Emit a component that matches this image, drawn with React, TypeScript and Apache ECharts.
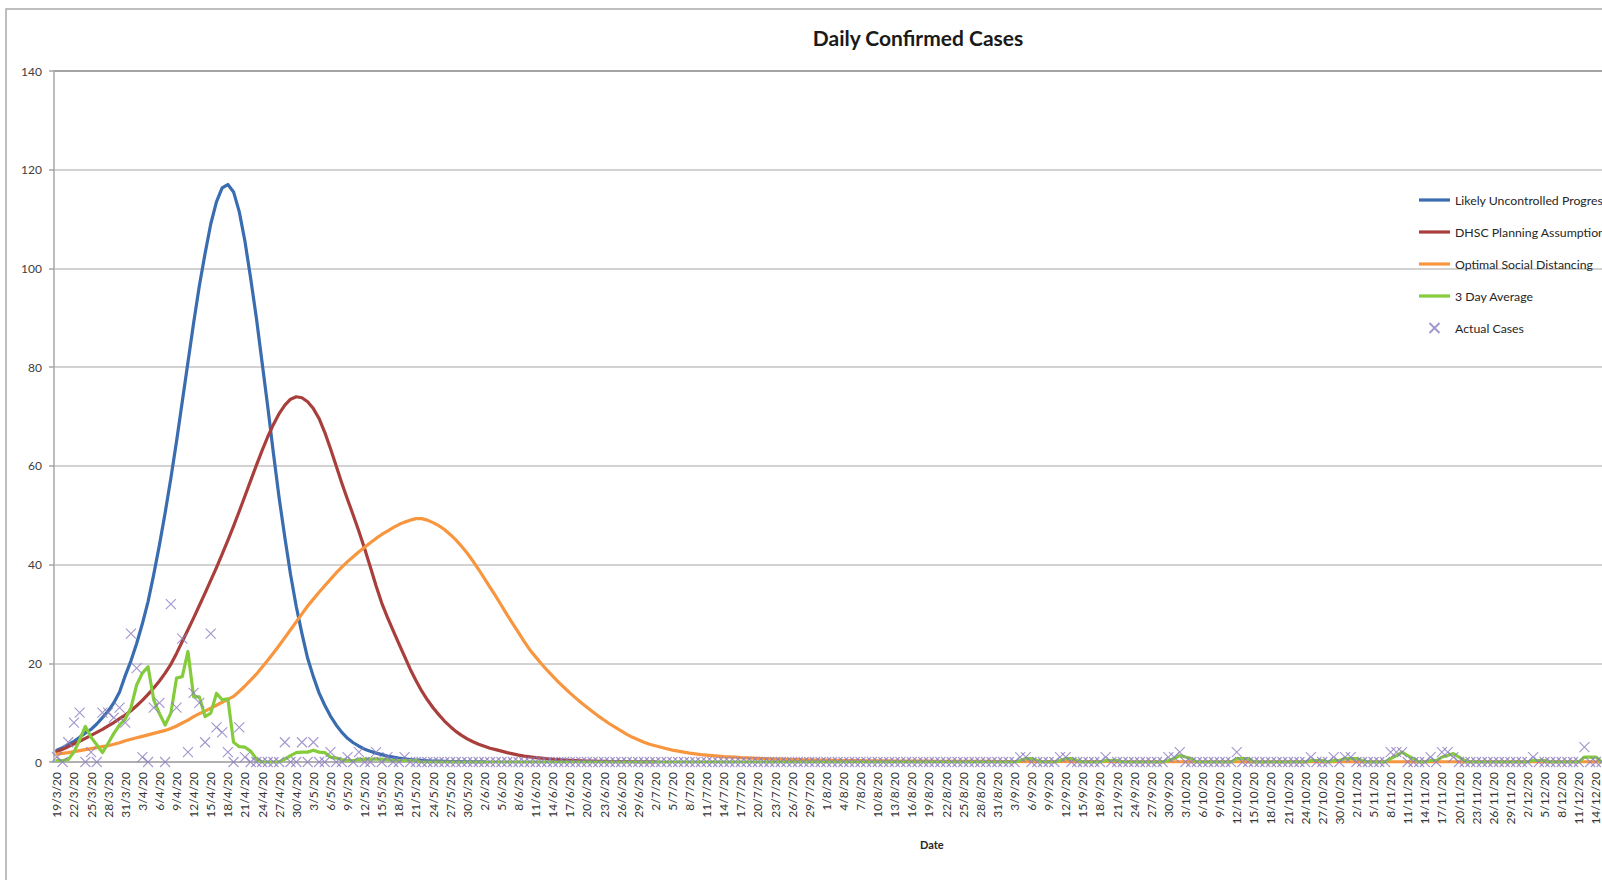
import React, { useEffect, useRef } from "react";
import * as echarts from "echarts";

const TITLE = "Daily Confirmed Cases";
const X_AXIS_NAME = "Date";
const Y_MIN = 0;
const Y_MAX = 140;
const Y_STEP = 20;

// Daily categories: 19/3/20 .. 20/1/21 (the picture is cropped at 14/12/20)
const START_UTC = Date.UTC(2020, 2, 19);
const N_DAYS = 308;
const LAST_VISIBLE_LABEL = 270; // 14/12/20, last label inside the crop
const dates: string[] = Array.from({ length: N_DAYS }, (_, i) => {
  const d = new Date(START_UTC + i * 86400000);
  return `${d.getUTCDate()}/${d.getUTCMonth() + 1}/${String(d.getUTCFullYear()).slice(2)}`;
});

const NAMES = [
  "Likely Uncontrolled Progression",
  "DHSC Planning Assumption",
  "Optimal Social Distancing",
  "3 Day Average",
  "Actual Cases",
];

const likelyUncontrolled = [
  2.4, 2.9, 3.5, 4.2, 5, 5.9, 6.6, 7.7, 9, 10.3,
  12, 14.2, 17.5, 20.5, 24, 28, 32.5, 38, 44, 50.5,
  57.5, 65, 73, 81, 89, 96.5, 103, 109, 113.5, 116.3,
  117, 115.5, 111.5, 105.5, 98, 90, 81, 72, 62.5, 53.5,
  45.5, 38, 31.5, 26, 21, 17.3, 14, 11.5, 9.3, 7.5,
  6, 4.8, 3.9, 3.2, 2.6, 2.2, 1.8, 1.5, 1.2, 1,
  0.8, 0.65, 0.5, 0.4, 0.32, 0.25, 0.2, 0.16, 0.12, 0.1,
  0.08, 0.06, 0.05, 0.04, 0.03, 0.02,
];

const dhscPlanning = [
  2.1, 2.6, 3.1, 3.7, 4.2, 4.8, 5.4, 6, 6.6, 7.3,
  8, 8.8, 9.5, 10.4, 11.4, 12.5, 13.7, 15, 16.4, 18,
  19.8, 22, 24.4, 26.8, 29.2, 31.7, 34.2, 36.8, 39.4, 42.1,
  44.9, 47.8, 50.8, 53.9, 57, 60.1, 63.1, 65.9, 68.4, 70.6,
  72.3, 73.5, 74, 73.8, 73, 71.6, 69.6, 66.8, 63.5, 60,
  56.5, 53.2, 50, 46.7, 43.2, 39.5, 35.7, 32.2, 29.3, 26.6,
  24, 21.4, 18.8, 16.5, 14.4, 12.6, 11, 9.6, 8.3, 7.2,
  6.2, 5.4, 4.7, 4.1, 3.6, 3.2, 2.8, 2.5, 2.2, 1.9,
  1.65, 1.4, 1.2, 1.05, 0.9, 0.78, 0.66, 0.56, 0.48, 0.4,
  0.34, 0.28, 0.24, 0.2, 0.17, 0.14, 0.12, 0.1, 0.08, 0.07,
  0.06, 0.05, 0.04, 0.03, 0.02, 0.02,
];

const optimalDistancing = [
  1.6, 1.75, 1.9, 2.1, 2.3, 2.5, 2.7, 2.9, 3.1, 3.3,
  3.6, 3.9, 4.3, 4.6, 4.9, 5.2, 5.5, 5.8, 6.1, 6.4,
  6.8, 7.3, 7.9, 8.5, 9.2, 9.8, 10.3, 10.9, 11.5, 12.1,
  12.7, 13.3, 14.3, 15.4, 16.6, 17.8, 19.2, 20.6, 22.1, 23.6,
  25.2, 26.8, 28.4, 30, 31.6, 33, 34.4, 35.7, 37, 38.3,
  39.5, 40.6, 41.6, 42.6, 43.5, 44.4, 45.3, 46.1, 46.8, 47.5,
  48.1, 48.6, 49, 49.3, 49.3, 49, 48.5, 47.9, 47.1, 46.1,
  45, 43.7, 42.3, 40.7, 39, 37.2, 35.4, 33.6, 31.7, 29.8,
  28, 26.2, 24.4, 22.7, 21.3, 19.9, 18.6, 17.4, 16.2, 15.1,
  14, 13, 12, 11.1, 10.2, 9.3, 8.5, 7.7, 7, 6.3,
  5.6, 5, 4.5, 4, 3.6, 3.3, 3, 2.7, 2.4, 2.2,
  2, 1.8, 1.65, 1.5, 1.4, 1.3, 1.2, 1.1, 1.05, 1,
  0.9, 0.85, 0.8, 0.75, 0.7, 0.65, 0.6, 0.57, 0.54, 0.5,
  0.47, 0.44, 0.42, 0.4, 0.38, 0.36, 0.34, 0.32, 0.3, 0.28,
  0.27, 0.26, 0.25, 0.24, 0.23, 0.22, 0.21, 0.2, 0.19, 0.18,
  0.18, 0.17, 0.16, 0.16, 0.15, 0.15, 0.14, 0.14, 0.13, 0.13,
  0.12, 0.12, 0.11, 0.11, 0.11, 0.1, 0.1, 0.1, 0.09, 0.09,
  0.09, 0.08, 0.08, 0.08, 0.08, 0.07, 0.07, 0.07, 0.07, 0.06,
  0.06, 0.06, 0.06, 0.06, 0.05, 0.05, 0.05, 0.05, 0.05, 0.05,
  0.04, 0.04, 0.04, 0.04, 0.04, 0.04, 0.04, 0.04, 0.04, 0.04,
  0.04, 0.04, 0.04, 0.03, 0.03, 0.03, 0.03, 0.03, 0.03, 0.03,
  0.03, 0.03, 0.03, 0.03, 0.03, 0.03, 0.03, 0.03, 0.03, 0.03,
  0.03, 0.03, 0.03, 0.03, 0.03, 0.03, 0.03, 0.03, 0.03, 0.03,
  0.02, 0.02, 0.02, 0.02, 0.02, 0.02, 0.02, 0.02, 0.02, 0.02,
  0.02, 0.02, 0.02, 0.02, 0.02, 0.02, 0.02, 0.02, 0.02, 0.02,
  0.02, 0.02, 0.02, 0.02, 0.02, 0.02, 0.02, 0.02, 0.02, 0.02,
  0.02, 0.02, 0.02, 0.02, 0.02, 0.02, 0.02, 0.02, 0.02, 0.02,
  0.02, 0.02, 0.02, 0.02, 0.02, 0.02, 0.02, 0.02, 0.02, 0.02,
];

const threeDayAverage = [
  0.3, 0.3, 0.5, 2, 4.5, 7.2, 5, 3.5, 1.9, 3.8,
  5.8, 7.5, 8.7, 11, 15.6, 18, 19.3, 12.6, 9.8, 7.5,
  9.9, 17, 17.3, 22.4, 13.2, 13.2, 9.2, 9.9, 13.9, 12.6,
  12.8, 4, 3.1, 3, 2.2, 0.6, 0, 0, 0, 0,
  0.6, 1.3, 1.9, 2, 2, 2.4, 2, 1.9, 1, 0.8,
  0.5, 0.3, 0.3, 0.5, 0.6, 0.6, 0.6, 0.6, 0.5, 0.3,
  0.3, 0.3, 0.3, 0.3, 0, 0, 0, 0, 0, 0,
  0, 0, 0, 0, 0, 0, 0, 0, 0, 0,
  0, 0, 0, 0, 0, 0, 0, 0, 0, 0,
  0, 0, 0, 0, 0, 0, 0, 0, 0, 0,
  0, 0, 0, 0, 0, 0, 0, 0, 0, 0,
  0, 0, 0, 0, 0, 0, 0, 0, 0, 0,
  0, 0, 0, 0, 0, 0, 0, 0, 0, 0,
  0, 0, 0, 0, 0, 0, 0, 0, 0, 0,
  0, 0, 0, 0, 0, 0, 0, 0, 0, 0,
  0, 0, 0, 0, 0, 0, 0, 0, 0, 0,
  0, 0, 0, 0, 0, 0, 0, 0, 0, 0.3,
  0.7, 0.7, 0.3, 0, 0, 0, 0.3, 0.7, 0.7, 0.3,
  0, 0, 0, 0, 0.3, 0.3, 0.3, 0, 0, 0,
  0, 0, 0, 0, 0, 0.3, 0.7, 1.3, 1, 0.7,
  0, 0, 0, 0, 0, 0, 0, 0.7, 0.7, 0.7,
  0, 0, 0, 0, 0, 0, 0, 0, 0, 0,
  0.3, 0.3, 0.3, 0, 0.3, 0.3, 0.7, 0.7, 0.7, 0.3,
  0, 0, 0, 0, 0.7, 1.3, 2, 1.3, 0.7, 0,
  0, 0.3, 0.3, 1, 1.3, 1.7, 1, 0.3, 0, 0,
  0, 0, 0, 0, 0, 0, 0, 0, 0, 0.3,
  0.3, 0.3, 0, 0, 0, 0, 0, 0, 1, 1,
  1, 0, 0, 0, 0, 0, 0, 0, 0, 0,
];

const actualCases = [
  1, 0, 4, 8, 10, 0, 2, 0, 10, 10,
  9, 11, 8, 26, 19, 1, 0, 11, 12, 0,
  32, 11, 25, 2, 14, 12, 4, 26, 7, 6,
  2, 0, 7, 1, 0, 0, 0, 0, 0, 0,
  4, 0, 0, 4, 0, 4, 0, 0, 2, 0,
  0, 1, 0, 2, 0, 0, 2, 0, 1, 0,
  0, 1, 0, 0, 0, 0, 0, 0, 0, 0,
  0, 0, 0, 0, 0, 0, 0, 0, 0, 0,
  0, 0, 0, 0, 0, 0, 0, 0, 0, 0,
  0, 0, 0, 0, 0, 0, 0, 0, 0, 0,
  0, 0, 0, 0, 0, 0, 0, 0, 0, 0,
  0, 0, 0, 0, 0, 0, 0, 0, 0, 0,
  0, 0, 0, 0, 0, 0, 0, 0, 0, 0,
  0, 0, 0, 0, 0, 0, 0, 0, 0, 0,
  0, 0, 0, 0, 0, 0, 0, 0, 0, 0,
  0, 0, 0, 0, 0, 0, 0, 0, 0, 0,
  0, 0, 0, 0, 0, 0, 0, 0, 0, 1,
  1, 0, 0, 0, 0, 0, 1, 1, 0, 0,
  0, 0, 0, 0, 1, 0, 0, 0, 0, 0,
  0, 0, 0, 0, 0, 1, 1, 2, 0, 0,
  0, 0, 0, 0, 0, 0, 0, 2, 0, 0,
  0, 0, 0, 0, 0, 0, 0, 0, 0, 0,
  1, 0, 0, 0, 1, 0, 1, 1, 0, 0,
  0, 0, 0, 0, 2, 2, 2, 0, 0, 0,
  0, 1, 0, 2, 2, 1, 0, 0, 0, 0,
  0, 0, 0, 0, 0, 0, 0, 0, 0, 1,
  0, 0, 0, 0, 0, 0, 0, 0, 3, 0,
  0, 0, 0, 0, 0, 0, 0, 0, 0, 0,
];

const COLORS = ["#3a6cb0", "#a93f3c", "#f7963f", "#84cc3c", "#8c7cbf"];
const FONT = 'Lato, "Open Sans", "Liberation Sans", sans-serif';
const CROSS = "path://M0,0L10,10M10,0L0,10";
const LEGEND_LINE = "path://M0,0M31,10M0,3.4L31,3.4L31,6.6L0,6.6Z";
const LEGEND_CROSS = "path://M0,0M31,10M10.5,0L20.5,10M20.5,0L10.5,10";

function lineSeries(name: string, data: number[], color: string, z: number) {
  return {
    type: "line",
    name,
    data,
    color,
    symbol: "none",
    showSymbol: false,
    z,
    silent: true,
    lineStyle: { width: 3.2, color, join: "round", cap: "round" },
    itemStyle: { color, borderWidth: 0 },
    emphasis: { disabled: true },
  };
}

export default function App() {
  const ref = useRef<HTMLDivElement>(null);
  useEffect(() => {
    if (!ref.current) return;
    const chart = echarts.init(ref.current, undefined, { renderer: "svg" });
    const gridColors = ["#c3c3c3", "#c3c3c3", "#c3c3c3", "#c3c3c3", "#c3c3c3", "#c3c3c3", "#c3c3c3", "#858585"];
    chart.setOption({
      animation: false,
      backgroundColor: "#ffffff",
      textStyle: { fontFamily: FONT },
      title: {
        text: TITLE,
        left: "center",
        top: 22,
        textStyle: { fontFamily: FONT, fontSize: 21, fontWeight: "bold", color: "#1a1a1a" },
      },
      graphic: [
        {
          type: "rect",
          shape: { x: 6, y: 9, width: 1900, height: 1000 },
          style: { fill: "none", stroke: "#a9a9a9", lineWidth: 1.5 },
          silent: true,
          z: -10,
        },
      ],
      legend: {
        orient: "vertical",
        left: 1418,
        top: 194,
        itemWidth: 31,
        itemHeight: 10,
        itemGap: 20,
        padding: 0,
        selectedMode: false,
        textStyle: { fontFamily: FONT, fontSize: 12.3, color: "#262626", lineHeight: 12 },
        data: [
          { name: NAMES[0], icon: LEGEND_LINE },
          { name: NAMES[1], icon: LEGEND_LINE },
          { name: NAMES[2], icon: LEGEND_LINE },
          { name: NAMES[3], icon: LEGEND_LINE },
          { name: NAMES[4], icon: LEGEND_CROSS },
        ],
      },
      grid: { left: 54, right: 26.4, top: 71, bottom: 118, containLabel: false },
      xAxis: {
        type: "category",
        data: dates,
        boundaryGap: true,
        name: X_AXIS_NAME,
        nameLocation: "middle",
        nameGap: 77,
        nameTextStyle: { fontFamily: FONT, fontSize: 11, fontWeight: "bold", color: "#262626" },
        axisLine: { show: true, lineStyle: { color: "#a6a6a6", width: 1.5 } },
        axisTick: { show: false },
        axisLabel: {
          interval: (index: number) => index % 3 === 0 && index <= LAST_VISIBLE_LABEL,
          rotate: 90,
          fontSize: 12,
          margin: 10,
          color: "#333333",
          fontFamily: FONT,
        },
        splitLine: { show: false },
      },
      yAxis: {
        type: "value",
        min: Y_MIN,
        max: Y_MAX,
        interval: Y_STEP,
        axisLine: { show: true, lineStyle: { color: "#a6a6a6", width: 1.5 } },
        axisTick: { show: true, length: 5, lineStyle: { color: "#a6a6a6", width: 1.5 } },
        axisLabel: { fontSize: 12, margin: 12, color: "#404040", fontFamily: FONT },
        splitLine: { show: true, lineStyle: { color: gridColors, width: 1.5 } },
      },
      series: [
        lineSeries(NAMES[0], likelyUncontrolled, COLORS[0], 2),
        lineSeries(NAMES[1], dhscPlanning, COLORS[1], 3),
        lineSeries(NAMES[2], optimalDistancing, COLORS[2], 4),
        lineSeries(NAMES[3], threeDayAverage, COLORS[3], 5),
        {
          type: "scatter",
          name: NAMES[4],
          data: actualCases,
          symbol: CROSS,
          symbolSize: 10,
          z: 6,
          silent: true,
          itemStyle: { color: "rgba(0,0,0,0)", borderColor: COLORS[4], borderWidth: 1.1 },
          emphasis: { disabled: true },
        },
      ],
    });
    return () => chart.dispose();
  }, []);
  return (
    <div
      style={{
        position: "fixed",
        left: 0,
        top: 0,
        width: "100vw",
        height: "100vh",
        overflow: "hidden",
        background: "#fff",
      }}
    >
      <div ref={ref} style={{ width: 1836, height: 880 }} />
    </div>
  );
}
